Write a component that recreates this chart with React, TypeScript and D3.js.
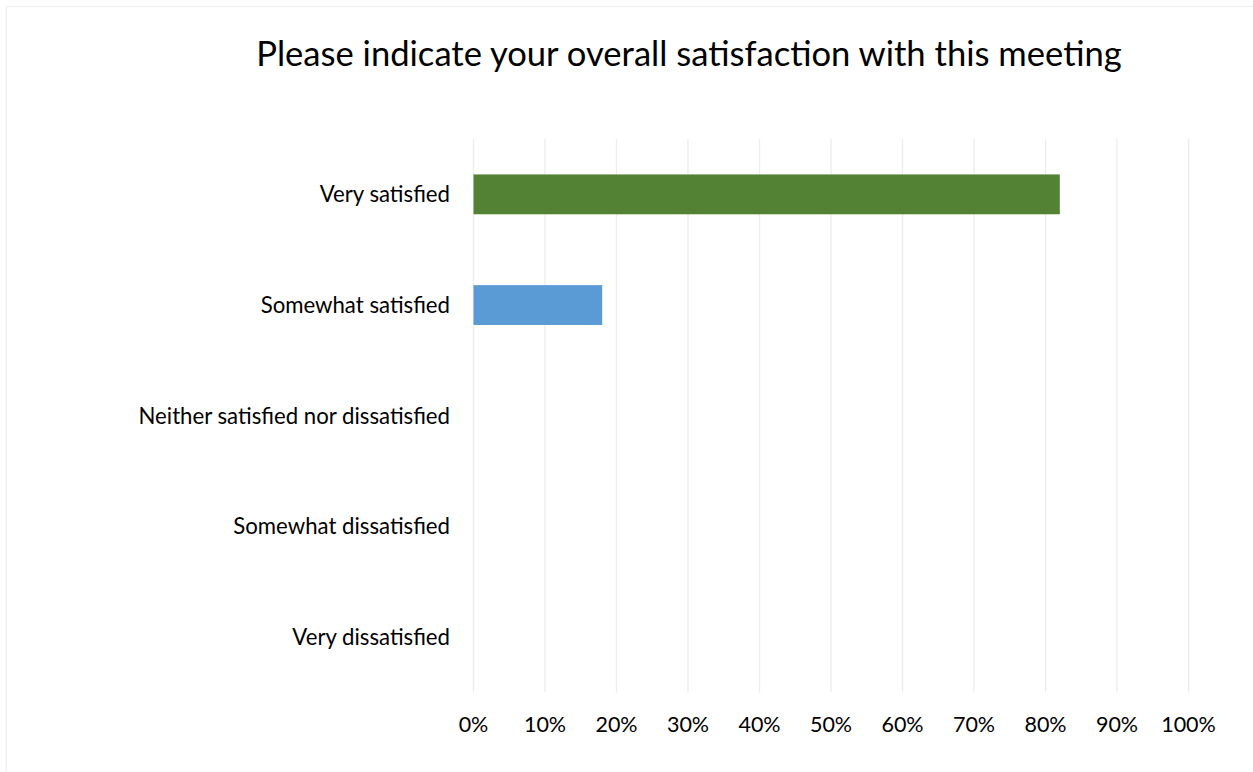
import React from "react";
import * as d3 from "d3";

const title = "Please indicate your overall satisfaction with this meeting";
const categories = [
  "Very satisfied",
  "Somewhat satisfied",
  "Neither satisfied nor dissatisfied",
  "Somewhat dissatisfied",
  "Very dissatisfied",
];
const values = [0.82, 0.18, 0, 0, 0];
const barColors = ["#548235", "#5B9BD5", "#5B9BD5", "#5B9BD5", "#5B9BD5"];
const ticks = [0, 0.1, 0.2, 0.3, 0.4, 0.5, 0.6, 0.7, 0.8, 0.9, 1.0];

const W = 1253;
const H = 772;
const plot = { left: 473.5, right: 1188.5, top: 139, bottom: 692.5 };
const font = "Lato, 'Open Sans', sans-serif";

export default function App() {
  const x = d3.scaleLinear().domain([0, 1]).range([plot.left, plot.right]);
  const y = d3
    .scaleBand<string>()
    .domain(categories)
    .range([plot.top, plot.bottom])
    .paddingInner(0.64)
    .paddingOuter(0.32);
  const fmt = d3.format(".0%");
  return (
    <svg
      width={W}
      height={H}
      style={{ position: "absolute", left: 0, top: 0, background: "#fff" }}
    >
      <rect x={6.5} y={6.5} width={W} height={H} fill="#fff" stroke="#eeeef3" strokeWidth={1.2} />
      <text
        x={689}
        y={66}
        textAnchor="middle"
        fontFamily={font}
        fontSize={34.6}
        fill="#000"
      >
        {title}
      </text>
      {ticks.map((t) => (
        <line
          key={t}
          x1={x(t)}
          x2={x(t)}
          y1={plot.top}
          y2={plot.bottom}
          stroke="#ececf1"
          strokeWidth={1.3}
        />
      ))}
      {categories.map((c, i) => (
        <g key={c}>
          {values[i] > 0 && (
            <rect
              x={x(0)}
              y={y(c)}
              width={x(values[i]) - x(0)}
              height={y.bandwidth()}
              fill={barColors[i]}
            />
          )}
          <text
            x={450}
            y={(y(c) as number) + y.bandwidth() / 2}
            dy="0.35em"
            textAnchor="end"
            fontFamily={font}
            fontSize={22.2}
            fill="#000"
          >
            {c}
          </text>
        </g>
      ))}
      {ticks.map((t) => (
        <text
          key={"l" + t}
          x={x(t)}
          y={732}
          textAnchor="middle"
          fontFamily={font}
          fontSize={21.5}
          fill="#000"
        >
          {fmt(t)}
        </text>
      ))}
    </svg>
  );
}
